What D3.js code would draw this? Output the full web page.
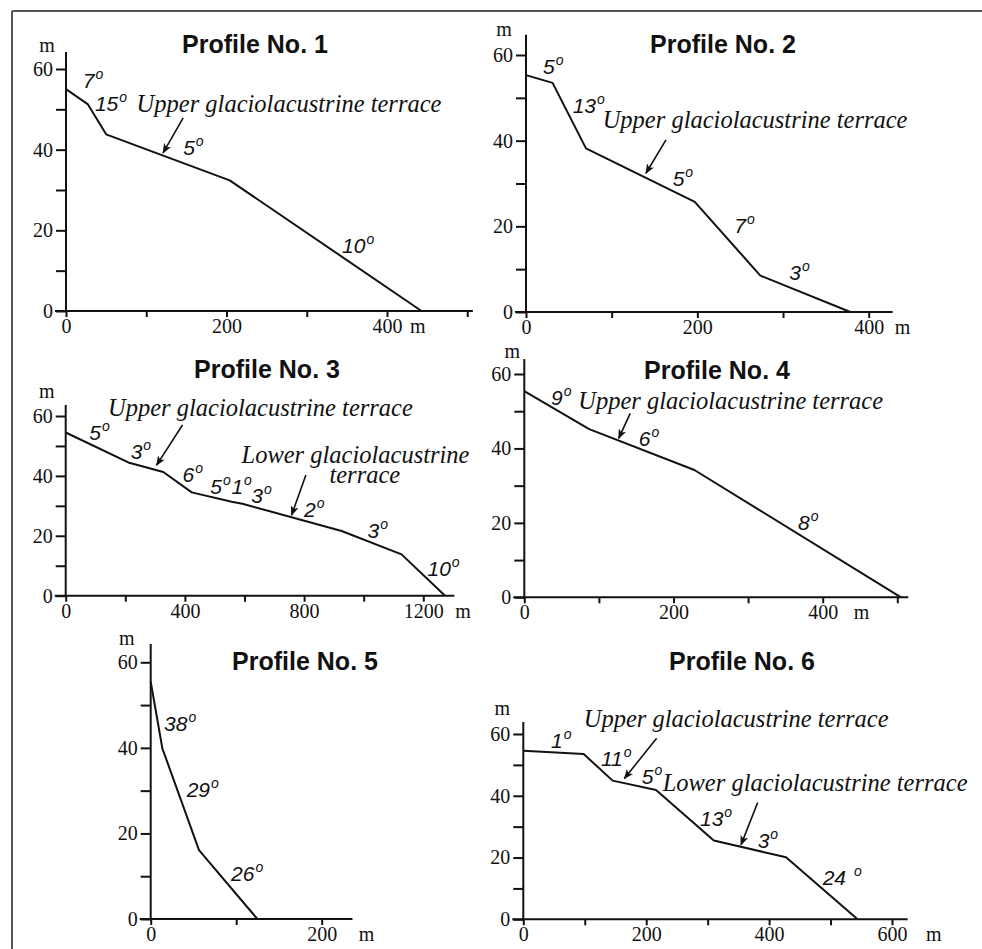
<!DOCTYPE html>
<html>
<head>
<meta charset="utf-8">
<script src="https://cdn.jsdelivr.net/npm/d3@7"></script>
<style>
  body { margin: 0; background: #fff; }
  svg { display: block; }
</style>
</head>
<body>
<svg id="perfiles" width="982" height="949"></svg>
<script>
const titles = ['Profile No. 1', 'Profile No. 2', 'Profile No. 3', 'Profile No. 4', 'Profile No. 5', 'Profile No. 6'];

// Distance (m) and elevation (m) of every break of slope
const dist1 = [0, 27, 50, 204, 443];
const elev1 = [55, 51.3, 43.8, 32.4, 0];
const dist2 = [0, 31, 70, 197, 273.5, 378.6];
const elev2 = [55.3, 53.5, 38.2, 25.7, 8.5, 0];
const dist3 = [0, 210, 327.5, 423, 557, 593, 926, 1127, 1273];
const elev3 = [54.5, 44.5, 41.3, 34.5, 31.4, 30.7, 21.6, 13.8, 0];
const dist4 = [0, 87, 228, 505];
const elev4 = [55.4, 45.2, 34.2, 0];
const dist5 = [0, 13.6, 56.5, 124.8];
const elev5 = [55.5, 39.9, 16.1, 0];
const dist6 = [0, 98.3, 145.4, 216, 310, 427.5, 544];
const elev6 = [54.6, 53.5, 44.9, 41.9, 25.5, 20.1, 0];

// Slope angles written along the profiles (degrees)
const slopes1 = ['7', '15', '5', '10'];
const slopes2 = ['5', '13', '5', '7', '3'];
const slopes3 = ['5', '3', '6', '5', '1', '3', '2', '3', '10'];
const slopes4 = ['9', '6', '8'];
const slopes5 = ['38', '29', '26'];
const slopes6 = ['1', '11', '5', '13', '3', '24'];

// Axis ticks
const elevTicks = [0, 10, 20, 30, 40, 50, 60];
const elevLabels = [0, 20, 40, 60];
const distTicks1 = [0, 100, 200, 300, 400, 500];
const distLabels1 = [0, 200, 400];
const distTicks2 = [0, 100, 200, 300, 400];
const distLabels2 = [0, 200, 400];
const distTicks3 = [0, 200, 400, 600, 800, 1000, 1200];
const distLabels3 = [0, 400, 800, 1200];
const distTicks4 = [0, 100, 200, 300, 400, 500];
const distLabels4 = [0, 200, 400];
const distTicks5 = [0, 100, 200];
const distLabels5 = [0, 200];
const distTicks6 = [0, 100, 200, 300, 400, 500, 600];
const distLabels6 = [0, 200, 400, 600];

const upperTerrace = 'Upper glaciolacustrine terrace';
const lowerTerrace = 'Lower glaciolacustrine terrace';

// Layout of every panel: pixel frame plus where the notes sit (in data units)
const panels = [
  { title: titles[0], dist: dist1, elev: elev1, slopes: slopes1, xTicks: distTicks1, xLabels: distLabels1,
    xRef: 400, px: [66, 387], py: [311, 69], xEnd: 507, yEnd: 64.2, titleAt: [255, 53],
    unitGap: 23, mAt: [-19, 52],
    slopeAt: [[21, 55.3], [36, 49.6], [146, 38.7], [344, 14.4]],
    notes: [{ text: upperTerrace, at: [88, 49.4] }],
    arrows: [[146, 47.9, 121, 39.2]] },
  { title: titles[1], dist: dist2, elev: elev2, slopes: slopes2, xTicks: distTicks2, xLabels: distLabels2,
    xRef: 400, px: [526, 868.7], py: [312, 55], xEnd: 428, yEnd: 64.7, titleAt: [723, 53],
    unitGap: 26, mAt: [-22, 36],
    slopeAt: [[19.8, 55.5], [54.5, 46.4], [171.2, 29.3], [243, 18.5], [307.2, 7.5]],
    notes: [{ text: upperTerrace, at: [89.5, 42.9] }],
    arrows: [[163.4, 40.2, 140, 32.4]] },
  { title: titles[2], dist: dist3, elev: elev3, slopes: slopes3, xTicks: distTicks3, xLabels: distLabels3,
    xRef: 1200, px: [65.7, 423.3], py: [595.7, 416], xEnd: 1304, yEnd: 63.7, titleAt: [267, 378],
    unitGap: 32, mAt: [-19, 398],
    slopeAt: [[79, 52], [218, 45.5], [392, 38], [485, 34], [556, 34], [623, 30.8], [800, 26.2], [1013, 19.2], [1214, 6.6]],
    notes: [{ text: upperTerrace, at: [142, 60] },
            { text: 'Lower glaciolacustrine', at: [590, 44.4] },
            { text: 'terrace', at: [885, 37.5] }],
    arrows: [[392, 57, 305, 43.6], [806, 40.3, 758, 26.9]] },
  { title: titles[3], dist: dist4, elev: elev4, slopes: slopes4, xTicks: distTicks4, xLabels: distLabels4,
    xRef: 400, px: [524.3, 822.7], py: [597.3, 374], xEnd: 514.7, yEnd: 64, titleAt: [717, 379],
    unitGap: 31, mAt: [-12, 358],
    slopeAt: [[35.8, 51.7], [153.4, 40.7], [367, 18.1]],
    notes: [{ text: upperTerrace, at: [72.4, 50.6] }],
    arrows: [[142, 49.4, 126.5, 42.7]] },
  { title: titles[4], dist: dist5, elev: elev5, slopes: slopes5, xTicks: distTicks5, xLabels: distLabels5,
    xRef: 200, px: [150.7, 321.7], py: [919, 662.3], xEnd: 236, yEnd: 64.3, titleAt: [305, 670],
    unitGap: 37, mAt: [-24, 645],
    slopeAt: [[15.6, 43.9], [42.1, 28.4], [94, 8.9]],
    notes: [],
    arrows: [] },
  { title: titles[5], dist: dist6, elev: elev6, slopes: slopes6, xTicks: distTicks6, xLabels: distLabels6,
    xRef: 600, px: [523.3, 892], py: [919.3, 734], xEnd: 625.5, yEnd: 63.9, titleAt: [742, 670],
    unitGap: 34, mAt: [-21, 715],
    slopeAt: [[45, 55.6], [126.4, 49.7], [192.7, 43.8], [287.5, 30.3], [381.4, 23], [487.2, 11.1]],
    degGap: [0, 0, 0, 0, 0, 7],
    notes: [{ text: upperTerrace, at: [98.3, 62.2] },
            { text: lowerTerrace, at: [226.8, 41.5] }],
    arrows: [[217, 58.6, 164.5, 45.6], [381.4, 37.8, 354.3, 24.1]] },
];

const svg = d3.select('#perfiles');
const ink = '#111';
const serif = '"Liberation Serif", "Times New Roman", serif';
const sans = '"Liberation Sans", Arial, Helvetica, sans-serif';

svg.append('defs').append('marker')
  .attr('id', 'punta')
  .attr('viewBox', '0 0 10 8')
  .attr('refX', 9)
  .attr('refY', 4)
  .attr('markerUnits', 'userSpaceOnUse')
  .attr('markerWidth', 10)
  .attr('markerHeight', 8)
  .attr('orient', 'auto')
  .append('path')
  .attr('d', 'M0,0 L10,4 L0,8 L2.5,4 z')
  .attr('fill', ink);

// Frame of the figure (only top and left edges are visible)
svg.append('line').attr('x1', 12).attr('y1', 11).attr('x2', 982).attr('y2', 11)
  .attr('stroke', '#555').attr('stroke-width', 2);
svg.append('line').attr('x1', 12).attr('y1', 11).attr('x2', 12).attr('y2', 949)
  .attr('stroke', '#555').attr('stroke-width', 2);

panels.forEach((p) => {
  const x = d3.scaleLinear().domain([0, p.xRef]).range(p.px);
  const y = d3.scaleLinear().domain([0, 60]).range(p.py);
  const g = svg.append('g');

  // Title
  g.append('text')
    .attr('x', p.titleAt[0])
    .attr('y', p.titleAt[1])
    .attr('text-anchor', 'middle')
    .attr('font-family', sans)
    .attr('font-weight', 'bold')
    .attr('font-size', 25)
    .attr('fill', ink)
    .text(p.title);

  // Elevation axis
  const yAxis = d3.axisLeft(y)
    .tickValues(elevTicks)
    .tickSize(10)
    .tickFormat((d) => (elevLabels.includes(d) ? d : ''));
  const gy = g.append('g').attr('transform', `translate(${x(0)},0)`).call(yAxis);
  gy.select('.domain').remove();
  gy.selectAll('line').attr('stroke', ink).attr('stroke-width', 2);
  gy.selectAll('text')
    .attr('font-family', serif)
    .attr('font-size', 20)
    .attr('fill', ink)
    .attr('x', -13);
  g.append('line')
    .attr('x1', x(0)).attr('x2', x(0))
    .attr('y1', y(0) + 1).attr('y2', y(p.yEnd))
    .attr('stroke', ink).attr('stroke-width', 2);

  // Distance axis
  const xAxis = d3.axisBottom(x)
    .tickValues(p.xTicks)
    .tickSize(6)
    .tickFormat((d) => (p.xLabels.includes(d) ? d : ''));
  const gx = g.append('g').attr('transform', `translate(0,${y(0)})`).call(xAxis);
  gx.select('.domain').remove();
  gx.selectAll('line').attr('stroke', ink).attr('stroke-width', 2);
  gx.selectAll('text')
    .attr('font-family', serif)
    .attr('font-size', 20)
    .attr('fill', ink)
    .attr('y', 8);
  g.append('line')
    .attr('x1', x(0) - 11).attr('x2', x(p.xEnd))
    .attr('y1', y(0)).attr('y2', y(0))
    .attr('stroke', ink).attr('stroke-width', 2);

  // Units
  g.append('text')
    .attr('x', x(0) + p.mAt[0])
    .attr('y', p.mAt[1])
    .attr('text-anchor', 'middle')
    .attr('font-family', serif)
    .attr('font-size', 20)
    .attr('fill', ink)
    .text('m');
  const lastLabel = p.xLabels[p.xLabels.length - 1];
  g.append('text')
    .attr('x', x(lastLabel) + p.unitGap)
    .attr('y', y(0) + 22)
    .attr('font-family', serif)
    .attr('font-size', 20)
    .attr('fill', ink)
    .text('m');

  // Profile line
  const line = d3.line()
    .x((d, i) => x(p.dist[i]))
    .y((d) => y(d));
  g.append('path')
    .datum(p.elev)
    .attr('d', line)
    .attr('fill', 'none')
    .attr('stroke', ink)
    .attr('stroke-width', 2)
    .attr('stroke-linejoin', 'round');

  // Slope angles
  p.slopes.forEach((s, i) => {
    const [sx, sy] = p.slopeAt[i];
    const t = g.append('text')
      .attr('x', x(sx))
      .attr('y', y(sy))
      .attr('font-family', sans)
      .attr('font-style', 'italic')
      .attr('font-size', 21)
      .attr('fill', ink);
    t.append('tspan').text(s);
    t.append('tspan')
      .attr('font-size', 14)
      .attr('dx', 1 + (p.degGap ? p.degGap[i] : 0))
      .attr('dy', -9)
      .text('o');
  });

  // Terrace notes and their arrows
  p.notes.forEach((n) => {
    g.append('text')
      .attr('x', x(n.at[0]))
      .attr('y', y(n.at[1]))
      .attr('font-family', serif)
      .attr('font-style', 'italic')
      .attr('font-size', 24.5)
      .attr('fill', ink)
      .text(n.text);
  });
  p.arrows.forEach((a) => {
    g.append('line')
      .attr('x1', x(a[0])).attr('y1', y(a[1]))
      .attr('x2', x(a[2])).attr('y2', y(a[3]))
      .attr('stroke', ink)
      .attr('stroke-width', 1.6)
      .attr('marker-end', 'url(#punta)');
  });
});
</script>
</body>
</html>
